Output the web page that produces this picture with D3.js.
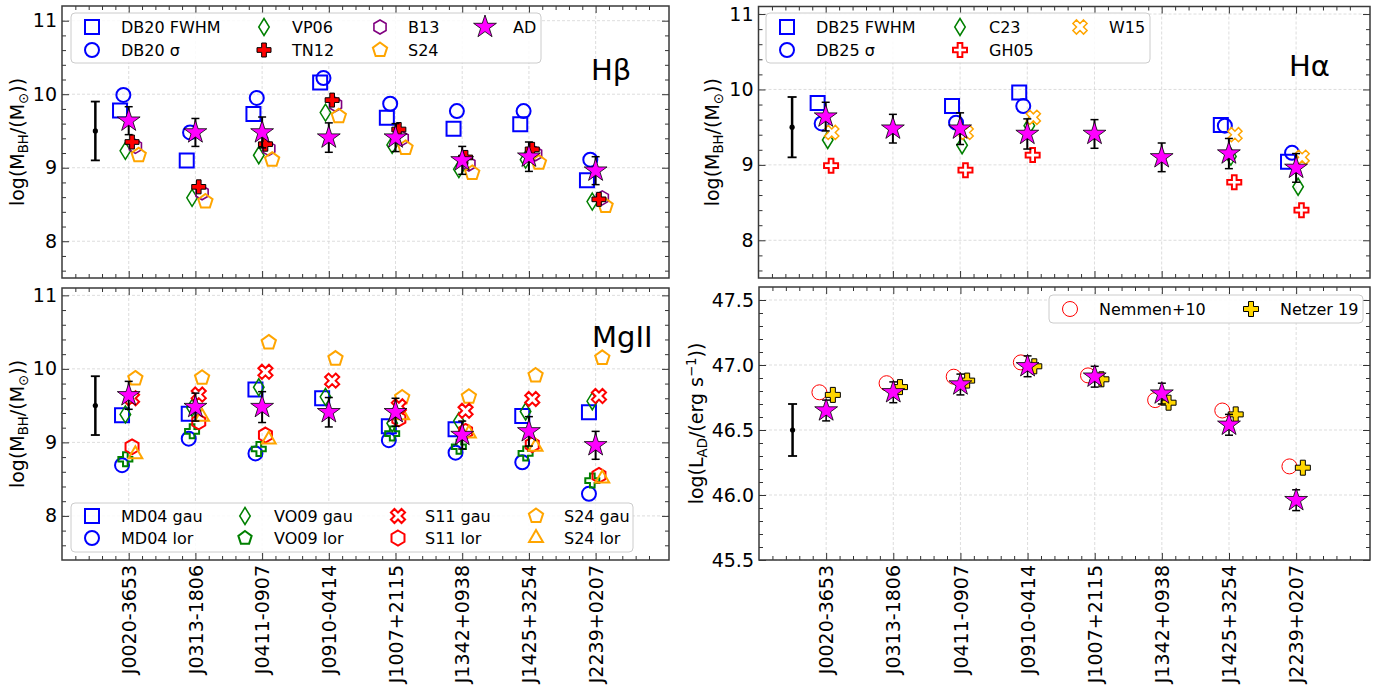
<!DOCTYPE html>
<html>
<head>
<meta charset="utf-8">
<script src="https://cdn.jsdelivr.net/npm/d3@7"></script>
<style>
  body { margin: 0; background: #fff; }
  svg text { font-family: "DejaVu Sans", sans-serif; }
</style>
</head>
<body>
<svg id="fig" width="1374" height="686"></svg>
<script>
// ---- Quasar names (x categories) ----
const objects = ["J0020-3653", "J0313-1806", "J0411-0907", "J0910-0414",
                 "J1007+2115", "J1342+0938", "J1425+3254", "J2239+0207"];

// ---- Accretion-disk (AD) fit results, shared by the three mass panels ----
const adMass    = [9.64, 9.48, 9.48, 9.41, 9.41, 9.10, 9.15, 8.96];
const adMassErr = [0.19, 0.19, 0.21, 0.20, 0.19, 0.19, 0.20, 0.19];

// ---- H-beta virial masses ----
const hbDB20FWHM  = [9.78, 9.10, 9.73, 10.16, 9.68, 9.53, 9.59, 8.83];
const hbDB20Sigma = [9.99, 9.48, 9.95, 10.22, 9.87, 9.77, 9.77, 9.11];
const hbVP06      = [9.23, 8.59, 9.17, 9.75, 9.31, 8.98, 9.11, 8.54];
const hbTN12      = [9.35, 8.74, 9.32, 9.92, 9.52, 9.14, 9.25, 8.57];
const hbB13       = [9.29, 8.66, 9.26, 9.86, 9.40, 9.05, 9.19, 8.59];
const hbS24       = [9.17, 8.54, 9.11, 9.70, 9.27, 8.93, 9.07, 8.48];

// ---- H-alpha virial masses (null = line not covered) ----
const haDB25FWHM  = [9.82, null, 9.78, 9.96, null, null, 9.53, 9.04];
const haDB25Sigma = [9.55, null, 9.56, 9.78, null, null, 9.52, 9.16];
const haC23       = [9.33, null, 9.26, 9.52, null, null, 9.11, 8.71];
const haGH05      = [8.99, null, 8.93, 9.13, null, null, 8.77, 8.40];
const haW15       = [9.43, null, 9.43, 9.63, null, null, 9.40, 9.10];

// ---- MgII virial masses (gaussian / lorentzian line fits) ----
const mgMD04gau = [9.37, 9.39, 9.72, 9.60, 9.22, 9.18, 9.36, 9.41];
const mgMD04lor = [8.69, 9.05, 8.85, null, 9.03, 8.86, 8.73, 8.30];
const mgVO09gau = [9.38, 9.47, 9.75, 9.62, 9.26, 9.29, 9.42, 9.56];
const mgVO09lor = [8.77, 9.15, 8.91, null, 9.12, 8.94, 8.85, 8.48];
const mgS11gau  = [9.60, 9.65, 9.96, 9.84, 9.49, 9.43, 9.59, 9.63];
const mgS11lor  = [8.94, 9.28, 9.10, null, 9.32, 9.15, 8.97, 8.55];
const mgS24gau  = [9.87, 9.88, 10.36, 10.14, 9.61, 9.62, 9.91, 10.15];
const mgS24lor  = [8.84, 9.35, 9.04, null, 9.37, 9.12, 8.94, 8.51];

// ---- Disk luminosities ----
const lumNemmen = [46.79, 46.86, 46.91, 47.02, 46.92, 46.73, 46.65, 46.22];
const lumNetzer = [46.77, 46.83, 46.88, 46.99, 46.89, 46.71, 46.62, 46.21];
const lumAD     = [46.65, 46.79, 46.85, 46.99, 46.91, 46.78, 46.54, 45.96];
const lumADErr  = [0.08, 0.08, 0.08, 0.08, 0.08, 0.08, 0.08, 0.08];

// ---- Typical systematic uncertainty shown at the left of each panel ----
const refMass = { value: 9.5, err: 0.4 };
const refLum  = { value: 46.5, err: 0.2 };

// ---- Axis ticks ----
const massTicks = [8, 9, 10, 11];
const lumTicks  = [45.5, 46.0, 46.5, 47.0, 47.5];

// ---------------------------------------------------------------
const svg = d3.select("#fig");
const catPos = objects.map((_, i) => i + 1);

const C = {
  blue: "#0000ff", green: "#008000", red: "#ff0000", purple: "#800080",
  orange: "#ffa500", magenta: "#ff00ff", gold: "#ffd700"
};

// marker outlines centred on (0,0)
function poly(n, r, rot) {
  const pts = d3.range(n).map(k => {
    const a = (rot + k * 360 / n) * Math.PI / 180;
    return [r * Math.cos(a), r * Math.sin(a)];
  });
  return "M" + pts.map(p => p.join(",")).join("L") + "Z";
}
function plusPts(r) {
  return [[-1,-3],[1,-3],[1,-1],[3,-1],[3,1],[1,1],[1,3],[-1,3],[-1,1],[-3,1],[-3,-1],[-1,-1]]
    .map(p => [p[0] * r / 3, p[1] * r / 3]);
}
const shapes = {
  square: r => `M${-r},${-r}h${2*r}v${2*r}h${-2*r}Z`,
  circle: r => `M${r},0A${r},${r} 0 1,1 ${-r},0A${r},${r} 0 1,1 ${r},0Z`,
  thinDiamond: r => `M0,${-r}L${r*0.62},0L0,${r}L${-r*0.62},0Z`,
  plus: r => "M" + plusPts(r).map(p => p.join(",")).join("L") + "Z",
  xcross: r => {
    const c = Math.SQRT1_2;
    return "M" + plusPts(r).map(p => [(p[0]-p[1])*c, (p[0]+p[1])*c].join(",")).join("L") + "Z";
  },
  hexagon: r => poly(6, r, -90),
  pentagon: r => poly(5, r, -90),
  triangle: r => poly(3, r, -90),
  star: r => {
    const pts = d3.range(10).map(k => {
      const rr = k % 2 ? r * 0.381966 : r;
      const a = (-90 + k * 36) * Math.PI / 180;
      return [rr * Math.cos(a), rr * Math.sin(a)];
    });
    return "M" + pts.map(p => p.join(",")).join("L") + "Z";
  }
};

function marker(g, st, px, py) {
  g.append("path")
    .attr("d", shapes[st.shape](st.r))
    .attr("transform", `translate(${px},${py})`)
    .attr("fill", st.fill || "none")
    .attr("stroke", st.stroke)
    .attr("stroke-width", st.sw)
    .attr("stroke-linejoin", "miter");
}

// ---------------------------------------------------------------
function makePanel(o) {
  const x = d3.scaleLinear().domain([0, 9.1]).range([o.left, o.right]);
  const y = d3.scaleLinear().domain(o.ydom).range([o.bottom, o.top]);
  const g = svg.append("g");

  // dashed grid
  const grid = g.append("g").attr("stroke", "#d4d4d4").attr("stroke-width", 0.8)
    .attr("stroke-dasharray", "3,2");
  grid.selectAll(".gx").data(catPos).join("line")
    .attr("x1", d => x(d)).attr("x2", d => x(d))
    .attr("y1", o.top).attr("y2", o.bottom);
  grid.selectAll(".gy").data(o.yMajor).join("line")
    .attr("y1", d => y(d)).attr("y2", d => y(d))
    .attr("x1", o.left).attr("x2", o.right);

  const xMinor = d3.range(0, 9.1, 0.2).map(v => +v.toFixed(2))
    .filter(v => Math.abs(v - Math.round(v)) > 1e-6);
  const yMinor = d3.range(Math.ceil(o.ydom[0] / o.yMinorStep) * o.yMinorStep, o.ydom[1] + 1e-9, o.yMinorStep)
    .map(v => +v.toFixed(2))
    .filter(v => !o.yMajor.some(m => Math.abs(m - v) < 1e-6) && v > o.ydom[0] + 1e-6 && v < o.ydom[1] - 1e-6);

  const addAxis = (axis, tx, ty) => {
    const a = g.append("g").attr("transform", `translate(${tx},${ty})`).call(axis);
    a.select(".domain").remove();
    a.selectAll("line").attr("stroke", "#333");
    a.attr("font-family", "DejaVu Sans").attr("font-size", 19);
    a.selectAll("text").attr("fill", "#000");
    return a;
  };
  // major / minor ticks pointing inwards on all four sides
  addAxis(d3.axisLeft(y).tickValues(o.yMajor).tickSize(-7).tickPadding(5).tickFormat(o.yFmt), o.left, 0);
  addAxis(d3.axisLeft(y).tickValues(yMinor).tickSize(-4).tickFormat(""), o.left, 0);
  addAxis(d3.axisRight(y).tickValues(o.yMajor).tickSize(-7).tickFormat(""), o.right, 0);
  addAxis(d3.axisRight(y).tickValues(yMinor).tickSize(-4).tickFormat(""), o.right, 0);
  addAxis(d3.axisTop(x).tickValues(catPos).tickSize(-7).tickFormat(""), 0, o.top);
  addAxis(d3.axisTop(x).tickValues(xMinor).tickSize(-4).tickFormat(""), 0, o.top);
  const bx = addAxis(d3.axisBottom(x).tickValues(catPos).tickSize(-7).tickPadding(5)
    .tickFormat((d, i) => o.showX ? objects[i] : ""), 0, o.bottom);
  addAxis(d3.axisBottom(x).tickValues(xMinor).tickSize(-4).tickFormat(""), 0, o.bottom);
  if (o.showX) {
    bx.selectAll("text")
      .attr("transform", "rotate(-90)")
      .attr("text-anchor", "end")
      .attr("x", -5).attr("y", 0).attr("dy", "0.35em");
  }

  // frame
  g.append("rect").attr("x", o.left).attr("y", o.top)
    .attr("width", o.right - o.left).attr("height", o.bottom - o.top)
    .attr("fill", "none").attr("stroke", "#3a3a3a").attr("stroke-width", 1.5);

  // y label
  const lab = g.append("text")
    .attr("transform", `translate(${o.labelX},${(o.top + o.bottom) / 2}) rotate(-90)`)
    .attr("text-anchor", "middle").attr("font-size", 19).attr("fill", "#000");
  o.label.forEach(part => {
    const t = lab.append("tspan").text(part.t);
    if (part.sub) t.attr("font-size", 13.3).attr("dy", 4);
    if (part.sup) t.attr("font-size", 13.3).attr("dy", -7);
    if (part.back) t.attr("dy", part.back);
  });

  const marks = g.append("g");
  return { x, y, g: marks, o };
}

function drawSeries(p, vals, st) {
  vals.forEach((v, i) => {
    if (v == null) return;
    marker(p.g, st, p.x(catPos[i] + st.off), p.y(v));
  });
}
function errBars(p, vals, errs, capHalf, lw) {
  vals.forEach((v, i) => {
    const cx = p.x(catPos[i]);
    const y0 = p.y(v - errs[i]), y1 = p.y(v + errs[i]);
    p.g.append("line").attr("x1", cx).attr("x2", cx).attr("y1", y0).attr("y2", y1)
      .attr("stroke", "#000").attr("stroke-width", lw);
    [y0, y1].forEach(yy => p.g.append("line").attr("x1", cx - capHalf).attr("x2", cx + capHalf)
      .attr("y1", yy).attr("y2", yy).attr("stroke", "#000").attr("stroke-width", 1.5));
  });
}
function refBar(p, ref) {
  const cx = p.x(0.5);
  p.g.append("line").attr("x1", cx).attr("x2", cx)
    .attr("y1", p.y(ref.value - ref.err)).attr("y2", p.y(ref.value + ref.err))
    .attr("stroke", "#000").attr("stroke-width", 2.5);
  [ref.value - ref.err, ref.value + ref.err].forEach(v =>
    p.g.append("line").attr("x1", cx - 4.5).attr("x2", cx + 4.5)
      .attr("y1", p.y(v)).attr("y2", p.y(v)).attr("stroke", "#000").attr("stroke-width", 1.8));
  p.g.append("circle").attr("cx", cx).attr("cy", p.y(ref.value)).attr("r", 2.6).attr("fill", "#000");
}
function legend(box, cols, rows, entries) {
  const g = svg.append("g");
  g.append("rect").attr("x", box[0]).attr("y", box[1])
    .attr("width", box[2] - box[0]).attr("height", box[3] - box[1])
    .attr("rx", 4).attr("fill", "#fff").attr("fill-opacity", 0.85)
    .attr("stroke", "#cccccc").attr("stroke-width", 1);
  entries.forEach((e, k) => {
    const c = Math.floor(k / rows.length), r = k % rows.length;
    marker(g, e.st, cols[c][0], rows[r]);
    g.append("text").attr("x", cols[c][1]).attr("y", rows[r]).attr("dy", "0.36em")
      .attr("font-size", 16).attr("fill", "#000").text(e.name);
  });
}
function panelTitle(x, y, txt) {
  svg.append("text").attr("x", x).attr("y", y).attr("font-size", 29).attr("fill", "#000").text(txt);
}

// ---- marker styles ----
const S = {
  sqBlue:   { shape: "square", r: 7, stroke: C.blue, sw: 2 },
  ciBlue:   { shape: "circle", r: 7, stroke: C.blue, sw: 2 },
  dmGreen:  { shape: "thinDiamond", r: 8.5, stroke: C.green, sw: 1.5 },
  plRedF:   { shape: "plus", r: 7, fill: C.red, stroke: "#000", sw: 1 },
  hxPurple: { shape: "hexagon", r: 7, stroke: C.purple, sw: 1.6 },
  pnOrange: { shape: "pentagon", r: 7.5, stroke: C.orange, sw: 2 },
  starAD:   { shape: "star", r: 12, fill: C.magenta, stroke: "#000", sw: 0.8 },
  plRedO:   { shape: "plus", r: 7, fill: "#fff", stroke: C.red, sw: 2 },
  xOrange:  { shape: "xcross", r: 7.5, fill: "#fff", stroke: C.orange, sw: 1.5 },
  xRed:     { shape: "xcross", r: 7.5, fill: "#fff", stroke: C.red, sw: 2 },
  hxRed:    { shape: "hexagon", r: 7.5, stroke: C.red, sw: 2 },
  pnGreen:  { shape: "pentagon", r: 7, stroke: C.green, sw: 2 },
  plGreen:  { shape: "plus", r: 7, fill: "none", stroke: C.green, sw: 2 },
  trOrange: { shape: "triangle", r: 8, stroke: C.orange, sw: 2 },
  ciRedThin:{ shape: "circle", r: 7.5, stroke: C.red, sw: 1 },
  plGold:   { shape: "plus", r: 7.5, fill: C.gold, stroke: "#000", sw: 1 }
};
const with_ = (st, off) => Object.assign({}, st, { off });

const massLabel = [{ t: "log(M" }, { t: "BH", sub: true }, { t: "/(M", back: -4 },
                   { t: "\u2299", sub: true }, { t: "))", back: -4 }];

// ---- H-beta ----
const p1 = makePanel({ left: 62, right: 669, top: 6, bottom: 278, ydom: [7.5, 11.2],
  yMajor: massTicks, yMinorStep: 0.2, yFmt: d3.format("d"), showX: false,
  labelX: 24, label: massLabel });
refBar(p1, refMass);
drawSeries(p1, hbDB20FWHM, with_(S.sqBlue, -0.13));
drawSeries(p1, hbDB20Sigma, with_(S.ciBlue, -0.08));
drawSeries(p1, hbVP06, with_(S.dmGreen, -0.05));
drawSeries(p1, hbB13, with_(S.hxPurple, 0.10));
drawSeries(p1, hbS24, with_(S.pnOrange, 0.15));
drawSeries(p1, hbTN12, with_(S.plRedF, 0.05));
errBars(p1, adMass, adMassErr, 4, 2);
drawSeries(p1, adMass, with_(S.starAD, 0));
legend([71, 13, 541, 63], [[92, 121], [264, 292], [380, 408], [485, 513]], [27, 50], [
  { name: "DB20 FWHM", st: S.sqBlue }, { name: "DB20 \u03c3", st: S.ciBlue },
  { name: "VP06", st: S.dmGreen }, { name: "TN12", st: S.plRedF },
  { name: "B13", st: S.hxPurple }, { name: "S24", st: S.pnOrange },
  { name: "AD", st: S.starAD }
]);
panelTitle(591, 80, "H\u03b2");

// ---- H-alpha ----
const p2 = makePanel({ left: 758.5, right: 1370, top: 6.5, bottom: 278, ydom: [7.5, 11.1],
  yMajor: massTicks, yMinorStep: 0.2, yFmt: d3.format("d"), showX: false,
  labelX: 719, label: massLabel });
refBar(p2, refMass);
drawSeries(p2, haDB25FWHM, with_(S.sqBlue, -0.12));
drawSeries(p2, haDB25Sigma, with_(S.ciBlue, -0.06));
drawSeries(p2, haC23, with_(S.dmGreen, 0.03));
drawSeries(p2, haW15, with_(S.xOrange, 0.09));
drawSeries(p2, haGH05, with_(S.plRedO, 0.08));
errBars(p2, adMass, adMassErr, 4, 2);
drawSeries(p2, adMass, with_(S.starAD, 0));
legend([766, 13, 1150, 63], [[787, 816], [960, 989], [1080, 1109]], [27, 50], [
  { name: "DB25 FWHM", st: S.sqBlue }, { name: "DB25 \u03c3", st: S.ciBlue },
  { name: "C23", st: S.dmGreen }, { name: "GH05", st: S.plRedO },
  { name: "W15", st: S.xOrange }
]);
panelTitle(1289, 76, "H\u03b1");

// ---- MgII ----
const p3 = makePanel({ left: 62, right: 669, top: 288, bottom: 560, ydom: [7.4, 11.1],
  yMajor: massTicks, yMinorStep: 0.2, yFmt: d3.format("d"), showX: true,
  labelX: 24, label: massLabel });
refBar(p3, refMass);
drawSeries(p3, mgMD04lor, with_(S.ciBlue, -0.10));
drawSeries(p3, mgMD04gau, with_(S.sqBlue, -0.10));
drawSeries(p3, mgVO09gau, with_(S.dmGreen, -0.05));
drawSeries(p3, mgVO09lor, with_(S.plGreen, -0.05));
drawSeries(p3, mgS24gau, with_(S.pnOrange, 0.10));
drawSeries(p3, mgS11lor, with_(S.hxRed, 0.05));
drawSeries(p3, mgS24lor, with_(S.trOrange, 0.10));
drawSeries(p3, mgS11gau, with_(S.xRed, 0.05));
errBars(p3, adMass, adMassErr, 4, 2);
drawSeries(p3, adMass, with_(S.starAD, 0));
legend([71, 503, 633, 552], [[92, 121], [245, 274], [398, 425], [536, 564]], [516, 538], [
  { name: "MD04 gau", st: S.sqBlue }, { name: "MD04 lor", st: S.ciBlue },
  { name: "VO09 gau", st: S.dmGreen }, { name: "VO09 lor", st: S.pnGreen },
  { name: "S11 gau", st: S.xRed }, { name: "S11 lor", st: S.hxRed },
  { name: "S24 gau", st: S.pnOrange }, { name: "S24 lor", st: S.trOrange }
]);
panelTitle(592, 347, "MgII");

// ---- Disk luminosity ----
const p4 = makePanel({ left: 759, right: 1370, top: 287, bottom: 560, ydom: [45.5, 47.6],
  yMajor: lumTicks, yMinorStep: 0.1, yFmt: d3.format(".1f"), showX: true,
  labelX: 703, label: [{ t: "log(L" }, { t: "AD", sub: true }, { t: "/(erg s", back: -4 },
                       { t: "\u22121", sup: true }, { t: "))", back: 7 }] });
refBar(p4, refLum);
drawSeries(p4, lumNemmen, with_(S.ciRedThin, -0.10));
drawSeries(p4, lumNetzer, with_(S.plGold, 0.10));
errBars(p4, lumAD, lumADErr, 4, 1.5);
drawSeries(p4, lumAD, with_(S.starAD, 0));
legend([1049, 295, 1363, 323], [[1070, 1099], [1251, 1280]], [309], [
  { name: "Nemmen+10", st: S.ciRedThin }, { name: "Netzer 19", st: S.plGold }
]);
</script>
</body>
</html>
